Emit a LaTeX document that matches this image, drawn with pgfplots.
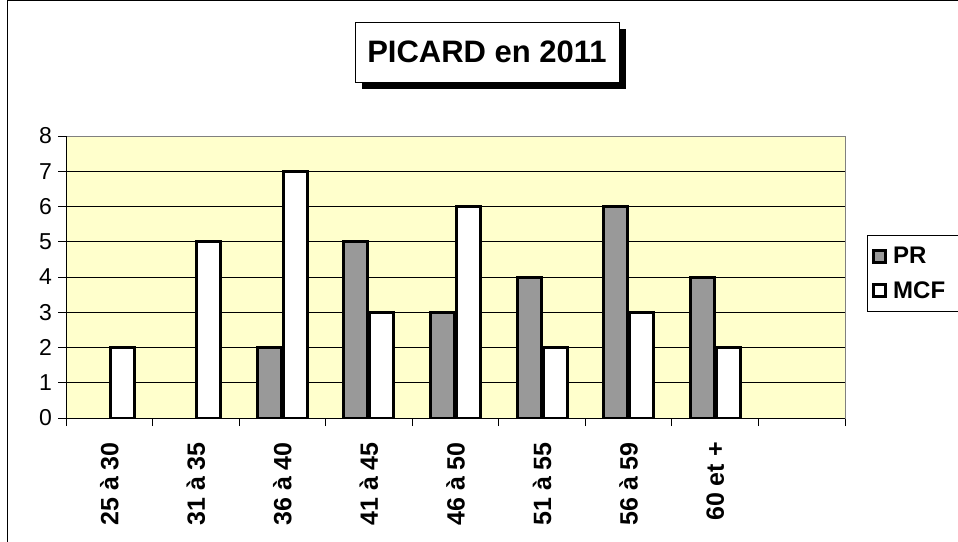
\documentclass[border=0pt]{standalone}
\usepackage{pgfplots}
\pgfplotsset{compat=1.18}
\usepackage{fontspec}
\setmainfont{Liberation Sans}
\definecolor{plotbg}{HTML}{FFFFCC}
\definecolor{prgray}{HTML}{999999}
\begin{document}
\begin{tikzpicture}[x=1pt,y=1pt]
\useasboundingbox (0pt,0pt) rectangle (958pt,541pt);
\draw[line width=1pt] (7pt,-20pt) rectangle (990pt,540pt);
\begin{axis}[
  at={(66pt,123pt)}, anchor=south west,
  width=779pt, height=282pt, scale only axis,
  xmin=-0.5, xmax=8.5, ymin=0, ymax=8,
  ytick={0,...,8},
  xtick={0,...,7},
  xticklabels={25 à 30,31 à 35,36 à 40,41 à 45,46 à 50,51 à 55,56 à 59,60 et +},
  minor xtick={-0.5,0.5,...,8.5},
  major x tick style={draw=none},
  minor x tick style={black, line width=0.8pt},
  y tick style={black, line width=0.8pt},
  major tick length=8pt, minor tick length=8pt,
  tick align=outside, tick pos=left,
  ymajorgrids, grid style={black, line width=0.8pt},
  axis background/.style={fill=plotbg},
  axis line style={gray, line width=0.8pt},
  /pgf/number format/assume math mode=true,
  yticklabel style={font=\fontsize{23}{26}\selectfont, anchor=east, inner sep=0pt, xshift=-6pt},
  xticklabel style={font=\fontsize{25}{28}\selectfont\bfseries, yshift=-16pt, rotate=90, anchor=east, inner sep=0pt},
  ybar=2pt, bar width=24pt,
  legend cell align=left,
  legend style={at={(1.028,0.649)}, anchor=north west, draw=black, line width=0.8pt,
    font=\fontsize{24}{28}\selectfont\bfseries, row sep=12pt, inner xsep=5pt, inner ysep=10pt,
    text width=70pt},
  legend image code/.code={\draw[#1, line width=3pt] (0pt,-6pt) rectangle (12pt,6pt); \path (16pt,0pt);},
]
\addplot[fill=prgray, draw=black, line width=3pt] coordinates {(2,2) (3,5) (4,3) (5,4) (6,6) (7,4)};
\addplot[fill=white, draw=black, line width=3pt] coordinates {(0,2) (1,5) (2,7) (3,3) (4,6) (5,2) (6,3) (7,2)};
\legend{PR,MCF}
\draw[black, line width=1pt] (rel axis cs:0,0) -- (rel axis cs:1,0);
\draw[black, line width=1pt] (rel axis cs:0,0) -- (rel axis cs:0,1);
\end{axis}
\fill[black] (362pt,452pt) rectangle (626pt,512pt);
\draw[fill=white, line width=0.8pt] (355pt,459pt) rectangle (619pt,519pt);
\node[font=\fontsize{31}{36}\selectfont\bfseries] at (487pt,489pt) {PICARD en 2011};
\end{tikzpicture}
\end{document}
